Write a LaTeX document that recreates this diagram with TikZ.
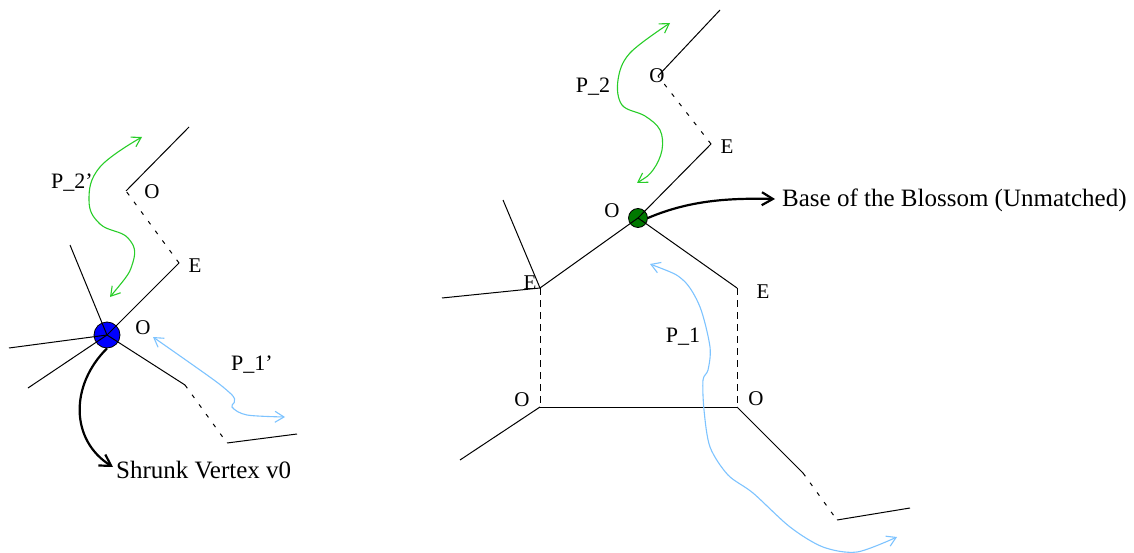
\documentclass[tikz,border=0pt]{standalone}
\usepackage{fontspec}
\setmainfont{Liberation Serif}
\usetikzlibrary{arrows.meta}
\definecolor{pathgreen}{RGB}{40,205,40}
\definecolor{pathblue}{RGB}{125,195,255}
\definecolor{basegreen}{RGB}{0,120,0}
\begin{document}
\begin{tikzpicture}[x=1pt,y=-1pt,
  edge/.style={draw=black, line width=1pt},
  matchedge/.style={edge, dash pattern=on 7pt off 5pt},
  sparseedge/.style={edge, dash pattern=on 4pt off 8pt},
  lbl/.style={font=\fontsize{21}{23}\selectfont, inner sep=0pt},
  plbl/.style={font=\fontsize{22}{24}\selectfont, inner sep=0pt},
  txt/.style={font=\fontsize{25}{27}\selectfont, inner sep=0pt, anchor=west},
  dbl/.style={arrows={Straight Barb[length=9pt,width=11pt]-Straight Barb[length=9pt,width=11pt]}},
  gpath/.style={draw=pathgreen, line width=1.1pt, dbl},
  bpath/.style={draw=pathblue, line width=1.1pt, dbl},
  pointer/.style={draw=black, line width=2.2pt, -{Straight Barb[length=11pt,width=13pt]}},
  vtx/.style={circle, draw=black, line width=0.8pt, inner sep=0pt}
]
\useasboundingbox (0,0) rectangle (1134,553);

% ---------- left figure ----------
\node[vtx, fill=blue, minimum size=26pt] (v0) at (107,335) {};
\coordinate (a1) at (179,263);
\coordinate (a2) at (126,191);
\coordinate (a3) at (189,127);
\coordinate (a4) at (70,245);
\coordinate (a5) at (9,348);
\coordinate (a6) at (28,388);
\coordinate (a7) at (185,385);
\coordinate (a8) at (227,443);
\coordinate (a9) at (297,434);

\draw[edge] (v0.center) -- (a1);
\draw[sparseedge] (a1) -- (a2);
\draw[edge] (a2) -- (a3);
\draw[edge] (v0.center) -- (a4);
\draw[edge] (v0.center) -- (a5);
\draw[edge] (v0.center) -- (a6);
\draw[edge] (v0.center) -- (a7);
\draw[sparseedge] (a7) -- (a8);
\draw[edge] (a8) -- (a9);

\node[lbl] (lo1) at (152,192) {O};
\node[lbl] (le1) at (195,266) {E};
\node[lbl] (lo2) at (143,328) {O};
\node[plbl] (lp2) at (72,183) {P\_2’};
\node[plbl] (lp1) at (252,365) {P\_1’};

\draw[gpath] plot[smooth, tension=0.7] coordinates {(110,297) (133,262) (128,238) (100,224) (89,200) (100,167) (142,137)};
\draw[bpath] plot[smooth, tension=0.5] coordinates {(153,337) (230,393) (232,407) (247,415) (285,417)};

\coordinate (sv) at (113,467);
\draw[pointer] (v0.south) .. controls (70,385) and (70,440) .. (sv);
\node[txt] (svt) at (116,470) {Shrunk Vertex v0};

% ---------- right figure ----------
\node[vtx, fill=basegreen, minimum size=19pt] (bv) at (638,218) {};
\coordinate (b1) at (711,144);
\coordinate (b2) at (658,76);
\coordinate (b3) at (720,10);
\coordinate (le) at (540,288);
\coordinate (re) at (737,288);
\coordinate (lo) at (540,407);
\coordinate (ro) at (737,407);
\coordinate (c1) at (503,200);
\coordinate (c2) at (442,298);
\coordinate (c3) at (460,460);
\coordinate (c4) at (803,473);
\coordinate (c5) at (837,520);
\coordinate (c6) at (910,508);

\draw[edge] (bv.center) -- (b1);
\draw[sparseedge] (b1) -- (b2);
\draw[edge] (b2) -- (b3);
\draw[edge] (bv.center) -- (le);
\draw[edge] (bv.center) -- (re);
\draw[matchedge] (le) -- (lo);
\draw[matchedge] (re) -- (ro);
\draw[edge] (lo) -- (ro);
\draw[edge] (le) -- (c1);
\draw[edge] (le) -- (c2);
\draw[edge] (lo) -- (c3);
\draw[edge] (ro) -- (c4);
\draw[sparseedge] (c4) -- (c5);
\draw[edge] (c5) -- (c6);

\node[lbl] (ro1) at (657,76) {O};
\node[lbl] (re1) at (727,147) {E};
\node[lbl] (ro2) at (612,211) {O};
\node[lbl] (re2) at (530,283) {E};
\node[lbl] (re3) at (763,292) {E};
\node[lbl] (ro3) at (522,400) {O};
\node[lbl] (ro4) at (756,399) {O};
\node[plbl] (rp2) at (593,87) {P\_2};
\node[plbl] (rp1) at (683,337) {P\_1};

\draw[gpath] plot[smooth, tension=0.6] coordinates {(637,183) (653,170) (662,150) (660,130) (645,116) (622,105) (618,80) (630,53) (670,23)};
\draw[bpath] plot[smooth, tension=0.5] coordinates {(650,264) (683,280) (700,307) (710,347) (708,370) (703,380) (704,410) (710,447) (728,475) (753,493) (790,527) (823,547) (857,552) (897,537)};

\coordinate (bb) at (775,199);
\draw[pointer] (bv.east) .. controls (690,200) and (730,198) .. (bb);
\node[txt] (bbt) at (782,200) {Base of the Blossom (Unmatched)};
\end{tikzpicture}
\end{document}
